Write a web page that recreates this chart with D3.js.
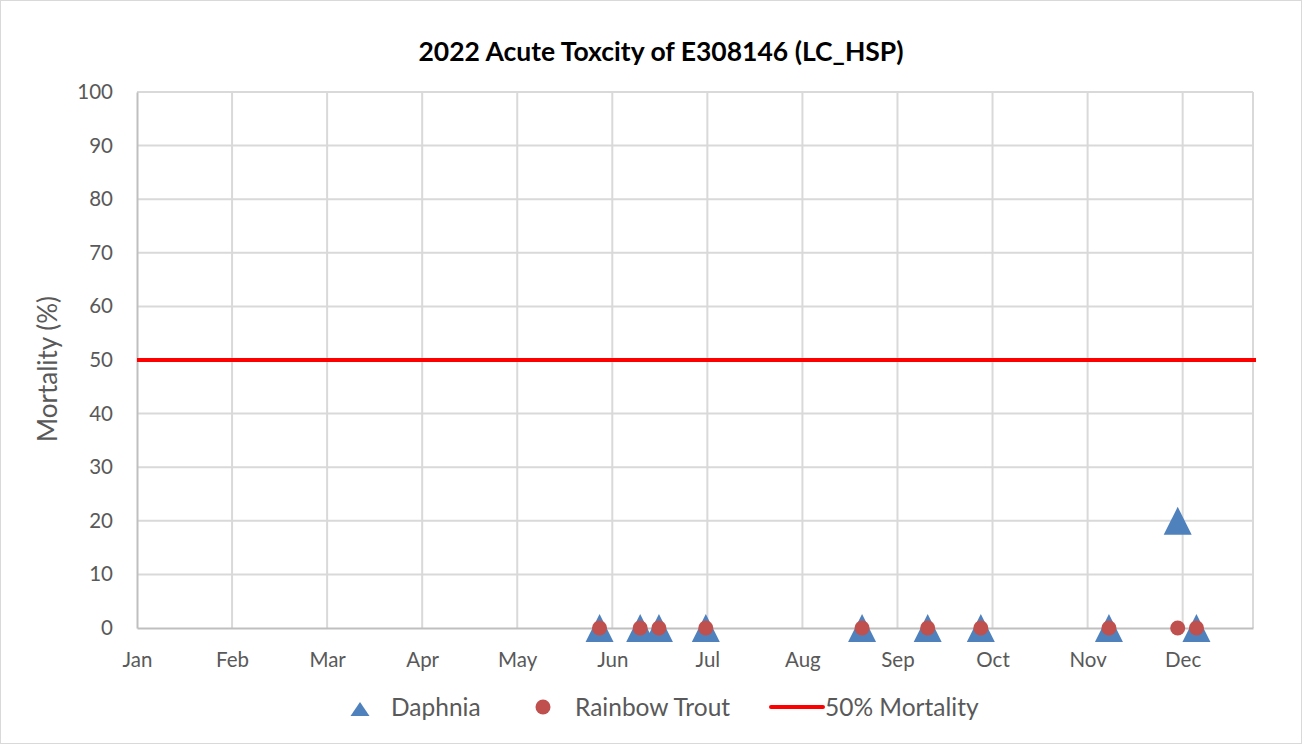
<!DOCTYPE html>
<html>
<head>
<meta charset="utf-8">
<script src="https://cdn.jsdelivr.net/npm/d3@7"></script>
<style>
  body { margin: 0; background: #fff; }
  svg { display: block; font-family: Lato, "Open Sans", sans-serif; }
</style>
</head>
<body>
<svg id="chart"></svg>
<script>
// month labels on the x axis (Excel puts one every ~30.4 days)
var monthLabels = ["Jan","Feb","Mar","Apr","May","Jun","Jul","Aug","Sep","Oct","Nov","Dec"]
var yTicks = [0,10,20,30,40,50,60,70,80,90,100]

// sampling dates
var sampleDates = ["2022-05-29","2022-06-11","2022-06-17","2022-07-02","2022-08-21",
                   "2022-09-11","2022-09-28","2022-11-08","2022-11-30","2022-12-06"]
var daphnia      = [0, 0, 0, 0, 0, 0, 0, 0, 20, 0]
var rainbowTrout = [0, 0, 0, 0, 0, 0, 0, 0, 0, 0]
var threshold = 50

var dimensions = {
    width: 1302,
    height: 744,
    margin: { top: 92, bottom: 116, left: 137, right: 49 }
}

var svg = d3.select("#chart")
    .attr("width", dimensions.width)
    .attr("height", dimensions.height)

// chart border
svg.append("rect")
    .attr("x", 0.5).attr("y", 0.5)
    .attr("width", dimensions.width - 1).attr("height", dimensions.height - 1)
    .attr("fill", "#fff").attr("stroke", "#d9d9d9")

var step = 365 / 12
var dayOf = function (s) {
    var d = d3.timeParse("%Y-%m-%d")(s)
    return d3.timeDay.count(new Date(2022, 0, 1), d)
}

var xScale = d3.scaleLinear()
    .domain([0, 11.74 * step])
    .range([dimensions.margin.left, dimensions.width - dimensions.margin.right])

var yScale = d3.scaleLinear()
    .domain([0, 100])
    .range([dimensions.height - dimensions.margin.bottom, dimensions.margin.top])

var x0 = xScale.range()[0], x1 = xScale.range()[1]
var y0 = yScale.range()[0], y1 = yScale.range()[1]

// Excel-style triangle: as tall as it is wide, centred on its box
var excelTriangle = function (w, h) {
    return {
        draw: function (context) {
            context.moveTo(0, -h / 2)
            context.lineTo(w / 2, h / 2)
            context.lineTo(-w / 2, h / 2)
            context.closePath()
        }
    }
}

// gridlines
svg.append("g").selectAll("line")
    .data(yTicks.slice(1))
    .enter().append("line")
    .attr("x1", x0).attr("x2", x1)
    .attr("y1", d => yScale(d)).attr("y2", d => yScale(d))
    .attr("stroke", "#d9d9d9").attr("stroke-width", 2)

svg.append("g").selectAll("line")
    .data(monthLabels.slice(1).map((m, i) => (i + 1) * step).concat([xScale.domain()[1]]))
    .enter().append("line")
    .attr("x1", d => xScale(d)).attr("x2", d => xScale(d))
    .attr("y1", y0).attr("y2", y1)
    .attr("stroke", "#d9d9d9").attr("stroke-width", 2)

// axes
var xAxisgen = d3.axisBottom(xScale)
    .tickValues(monthLabels.map((m, i) => i * step))
    .tickFormat((d, i) => monthLabels[i])
    .tickSize(0).tickPadding(24)

var yAxisgen = d3.axisLeft(yScale)
    .tickValues(yTicks)
    .tickSize(0).tickPadding(24)

var xAxis = svg.append("g")
    .attr("transform", `translate(0,${y0})`)
    .call(xAxisgen)
xAxis.select(".domain").attr("stroke", "#bfbfbf").attr("stroke-width", 2)

var yAxis = svg.append("g")
    .attr("transform", `translate(${x0},0)`)
    .call(yAxisgen)
yAxis.select(".domain").attr("stroke", "#bfbfbf").attr("stroke-width", 2)

svg.selectAll(".tick text")
    .attr("fill", "#595959")
    .style("font-size", "20.5px")
    .style("font-family", "Lato, sans-serif")

// 50% line
svg.append("line")
    .attr("x1", x0).attr("x2", x1 + 3)
    .attr("y1", yScale(threshold)).attr("y2", yScale(threshold))
    .attr("stroke", "#ff0000").attr("stroke-width", 4)

var triangle = d3.symbol().type(excelTriangle(28, 28))

// Daphnia
svg.append("g").selectAll("path")
    .data(sampleDates.map((s, i) => [dayOf(s), daphnia[i]]))
    .enter().append("path")
    .attr("d", triangle)
    .attr("transform", d => `translate(${xScale(d[0])},${yScale(d[1])})`)
    .attr("fill", "#4f81bd")

// Rainbow Trout
svg.append("g").selectAll("circle")
    .data(sampleDates.map((s, i) => [dayOf(s), rainbowTrout[i]]))
    .enter().append("circle")
    .attr("cx", d => xScale(d[0]))
    .attr("cy", d => yScale(d[1]))
    .attr("r", 7.5)
    .attr("fill", "#c0504d")

// title
svg.append("text")
    .attr("x", 661).attr("y", 61)
    .attr("text-anchor", "middle")
    .style("font-size", "26.5px").style("font-weight", "bold")
    .attr("fill", "#000")
    .text("2022 Acute Toxcity of E308146 (LC_HSP)")

// y axis title
svg.append("text")
    .attr("transform", "translate(57,369) rotate(-90)")
    .attr("text-anchor", "middle")
    .attr("fill", "#595959")
    .style("font-size", "26px")
    .text("Mortality (%)")

// legend
var legend = svg.append("g").attr("transform", "translate(0,707)")
legend.append("path")
    .attr("d", d3.symbol().type(excelTriangle(19, 14)))
    .attr("transform", "translate(360,2)")
    .attr("fill", "#4f81bd")
legend.append("text").attr("x", 391).attr("y", 9)
    .attr("fill", "#595959").style("font-size", "24.5px").text("Daphnia")
legend.append("circle").attr("cx", 543).attr("cy", 0).attr("r", 7.5)
    .attr("fill", "#c0504d")
legend.append("text").attr("x", 575).attr("y", 9)
    .attr("fill", "#595959").style("font-size", "24.5px").text("Rainbow Trout")
legend.append("line").attr("x1", 771).attr("x2", 823).attr("y1", 0).attr("y2", 0)
    .attr("stroke", "#ff0000").attr("stroke-width", 4).attr("stroke-linecap", "round")
legend.append("text").attr("x", 825).attr("y", 9)
    .attr("fill", "#595959").style("font-size", "24.5px").text("50% Mortality")
</script>
</body>
</html>
